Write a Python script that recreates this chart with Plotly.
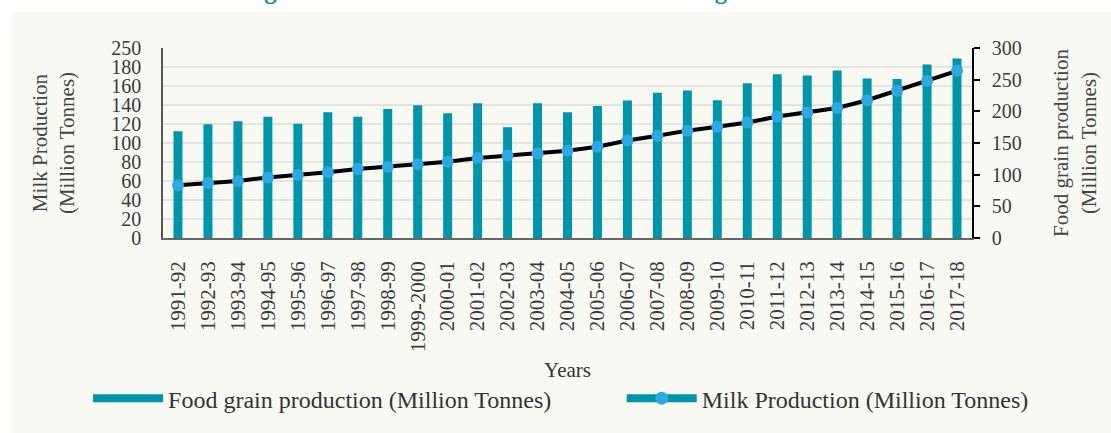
import plotly.graph_objects as go

years = ["1991-92", "1992-93", "1993-94", "1994-95", "1995-96", "1996-97", "1997-98",
         "1998-99", "1999-2000", "2000-01", "2001-02", "2002-03", "2003-04", "2004-05",
         "2005-06", "2006-07", "2007-08", "2008-09", "2009-10", "2010-11", "2011-12",
         "2012-13", "2013-14", "2014-15", "2015-16", "2016-17", "2017-18"]

food_grain = [168.4, 179.5, 184.3, 191.5, 180.4, 198.5, 191.5, 203.6, 209.8, 196.8,
              212.9, 174.8, 212.9, 198.4, 208.6, 217.3, 229.5, 233.0, 217.6, 244.5,
              258.5, 256.5, 264.5, 252.0, 251.0, 274.0, 283.5]

milk = [55.6, 58.0, 60.0, 63.8, 66.2, 69.1, 72.6, 74.8, 77.6, 80.2,
        84.2, 86.8, 89.0, 91.8, 96.0, 102.6, 107.7, 113.0, 117.0, 121.5,
        127.8, 132.0, 136.8, 145.0, 155.0, 165.2, 176.0]

left_tick_vals = [0, 20, 40, 60, 80, 100, 120, 140, 160, 180, 200]
left_tick_text = ["0", "20", "40", "60", "80", "100", "120", "140", "160", "180", "250"]
right_tick_vals = [0, 50, 100, 150, 200, 250, 300]

TEAL = "#0095a9"
BLUE = "#2ea8e1"
PANEL = "#f9f9f4"
FONT = "Liberation Serif"

fig = go.Figure()

fig.add_trace(go.Bar(
    x=years, y=food_grain, name="Food grain production (Million Tonnes)",
    marker=dict(color=TEAL, line=dict(width=0)), width=0.3,
    yaxis="y", showlegend=False,
))

fig.add_trace(go.Scatter(
    x=years, y=milk, name="Milk Production (Million Tonnes)",
    mode="lines+markers", line=dict(color="#000000", width=4),
    marker=dict(color=BLUE, size=12), yaxis="y2", showlegend=False,
))

# legend entries
fig.add_trace(go.Scatter(
    x=[None], y=[None], name="Food grain production (Million Tonnes)",
    mode="lines", line=dict(color=TEAL, width=8), yaxis="y", legend="legend",
))
fig.add_trace(go.Scatter(
    x=[None], y=[None], name="Milk Production (Million Tonnes)",
    mode="lines+markers", line=dict(color=TEAL, width=8),
    marker=dict(color=BLUE, size=13), yaxis="y", legend="legend2",
))

legend_common = dict(
    orientation="h", xanchor="left", y=-0.845, yanchor="middle", itemwidth=70,
    font=dict(size=24, color="#333333"), bgcolor="rgba(0,0,0,0)",
)

fig.update_layout(
    width=1111, height=433,
    margin=dict(l=163, r=139, t=48, b=193),
    paper_bgcolor="#ffffff",
    plot_bgcolor=PANEL,
    font=dict(family=FONT, size=20, color="#333333"),
    xaxis=dict(
        type="category", tickangle=-90, showgrid=False, automargin=False,
        showline=True, linecolor="#666666", linewidth=1.5,
        ticks="", ticklabelstandoff=13,
        tickfont=dict(size=21, color="#3a3a3a"),
        title=dict(text="Years", font=dict(size=21, color="#333333"), standoff=11),
        range=[-0.5, 26.5],
    ),
    yaxis=dict(
        side="right", range=[0, 300], tickvals=right_tick_vals, automargin=False,
        showgrid=False, zeroline=False,
        showline=True, linecolor="#000000", linewidth=1.5,
        ticks="outside", ticklen=6, tickcolor="#000000", tickwidth=1.5,
        ticklabelstandoff=8,
        tickfont=dict(size=20, color="#3a3a3a"),
        title=dict(text="Food grain production<br>(Million Tonnes)",
                   font=dict(size=21, color="#444444"), standoff=33),
    ),
    yaxis2=dict(
        overlaying="y", side="left", range=[0, 200], automargin=False,
        tickvals=left_tick_vals, ticktext=left_tick_text,
        showgrid=True, gridcolor="#e4e4df", gridwidth=1.5, zeroline=False,
        showline=True, linecolor="#555555", linewidth=1.5,
        ticks="", ticklabelstandoff=16,
        tickfont=dict(size=20, color="#3a3a3a"),
        title=dict(text="Milk Production<br>(Million Tonnes)",
                   font=dict(size=21, color="#444444"), standoff=31),
    ),
    legend=dict(x=-0.0926, **legend_common),
    legend2=dict(x=0.567, **legend_common),
    shapes=[dict(
        type="rect", xref="paper", yref="paper", layer="below",
        x0=-0.1867, x1=1.2, y0=-1.1, y1=1.1927,
        fillcolor=PANEL, line=dict(width=0),
    )],
    annotations=[dict(
        text="<b>Figure 6.6: Total Milk Production and Food grain Production</b>",
        xref="paper", yref="paper", x=0.502, y=1.222,
        xanchor="center", yanchor="bottom", showarrow=False,
        font=dict(family=FONT, size=25, color="#1a8aa8"),
    )],
)

fig.write_html("out.html", post_script="document.body.style.margin='0';",
               config={"displayModeBar": False})
